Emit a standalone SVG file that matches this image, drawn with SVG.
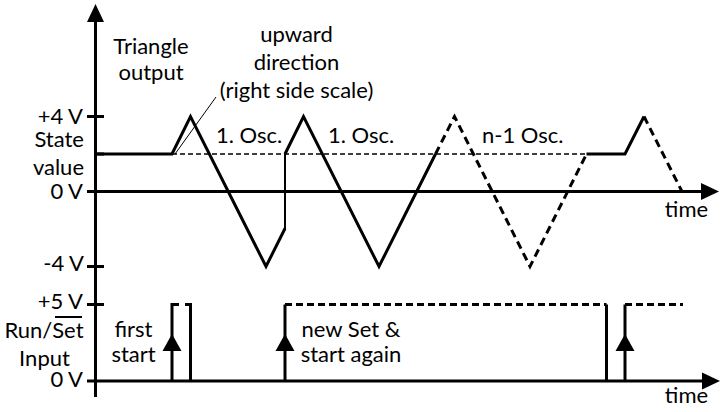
<svg xmlns="http://www.w3.org/2000/svg" width="722" height="412" viewBox="0 0 722 412">
<style>
text{font-family:Lato,"Liberation Sans",sans-serif;font-size:22px;fill:#000}
.m{text-anchor:middle}
.e{text-anchor:end}
.thick{fill:none;stroke:#000;stroke-width:3;stroke-linejoin:miter;stroke-linecap:butt}
.dash{fill:none;stroke:#000;stroke-width:3;stroke-dasharray:8,5}
.ldash{fill:none;stroke:#000;stroke-width:3;stroke-dasharray:7,4}
.thin{fill:none;stroke:#000;stroke-width:2}
.tdash{fill:none;stroke:#000;stroke-width:1.5;stroke-dasharray:5,3}
.lead{fill:none;stroke:#000;stroke-width:1}
.head{fill:#000;stroke:none}
</style>
<rect width="722" height="412" fill="#fff"/>
<g id="axes">
<path class="thick" d="M95.5,20 V397"/>
<polygon class="head" points="95.5,4 87,22 104,22"/>
<path class="thick" d="M87,191.5 H703"/>
<polygon class="head" points="719,191.5 701,183 701,200"/>
<path class="thick" d="M87,381 H703"/>
<polygon class="head" points="720,381 702,372.5 702,389.5"/>
<path class="thick" d="M87,116.5 H104 M87,266.5 H104 M87,304.5 H104 M95.5,154 H104"/>
</g>
<g id="labels">
<text class="m" x="151" y="54">Triangle</text>
<text class="m" x="151" y="80">output</text>
<text class="m" x="296.5" y="42">upward</text>
<text class="m" x="296.5" y="70">direction</text>
<text class="m" x="296.5" y="98">(right side scale)</text>
<text class="e" x="83" y="124">+4 V</text>
<text class="e" x="84" y="147">State</text>
<text class="e" x="84" y="175">value</text>
<text class="e" x="83" y="199">0 V</text>
<text class="e" x="84" y="271">-4 V</text>
<text class="e" x="83" y="309">+5 V</text>
<text class="m" x="44" y="338">Run/Set</text>
<path class="thin" d="M55,317 H82"/>
<text class="m" x="44.5" y="366">Input</text>
<text class="e" x="83" y="387">0 V</text>
<text x="216" y="143">1. Osc.</text>
<text x="328" y="143">1. Osc.</text>
<text x="482" y="143">n-1 Osc.</text>
<text class="m" x="686.5" y="217">time</text>
<text class="m" x="686.5" y="403">time</text>
<text class="m" x="133.5" y="337">first</text>
<text class="m" x="133.5" y="362">start</text>
<text class="m" x="351" y="337">new Set &amp;</text>
<text class="m" x="351" y="362">start again</text>
</g>
<g id="connectors">
<path class="lead" d="M175,154 L216,97"/>
<path class="tdash" d="M172,154 H586.5"/>
<path class="thick" d="M95.5,154 H172 L190.5,116.5 L266,266.5 L285,228.5"/>
<path class="thin" d="M285,229 V154"/>
<path class="thick" d="M285,154 L303.5,116.5 L379,266.5 L435.5,154"/>
<path class="dash" d="M435.5,154 L454.5,116.5 L530,266.5 L586.5,154"/>
<path class="thick" d="M586.5,154 H625 L644,116.5"/>
<path class="dash" d="M644,116.5 L682,191.5"/>
<path class="thick" d="M172,381 V304.5 H179 M185,304.5 H190.5 V381"/>
<polygon class="head" points="172,334 162.5,351 181.5,351"/>
<path class="thick" d="M285,381 V304.5"/>
<path class="ldash" d="M285,304.5 H606.5"/>
<path class="thick" d="M606.5,304.5 V381"/>
<polygon class="head" points="285,334 275.5,351 294.5,351"/>
<path class="thick" d="M625,381 V304.5"/>
<path class="ldash" d="M625,304.5 H683"/>
<polygon class="head" points="625,334 615.5,351 634.5,351"/>
</g>
</svg>
